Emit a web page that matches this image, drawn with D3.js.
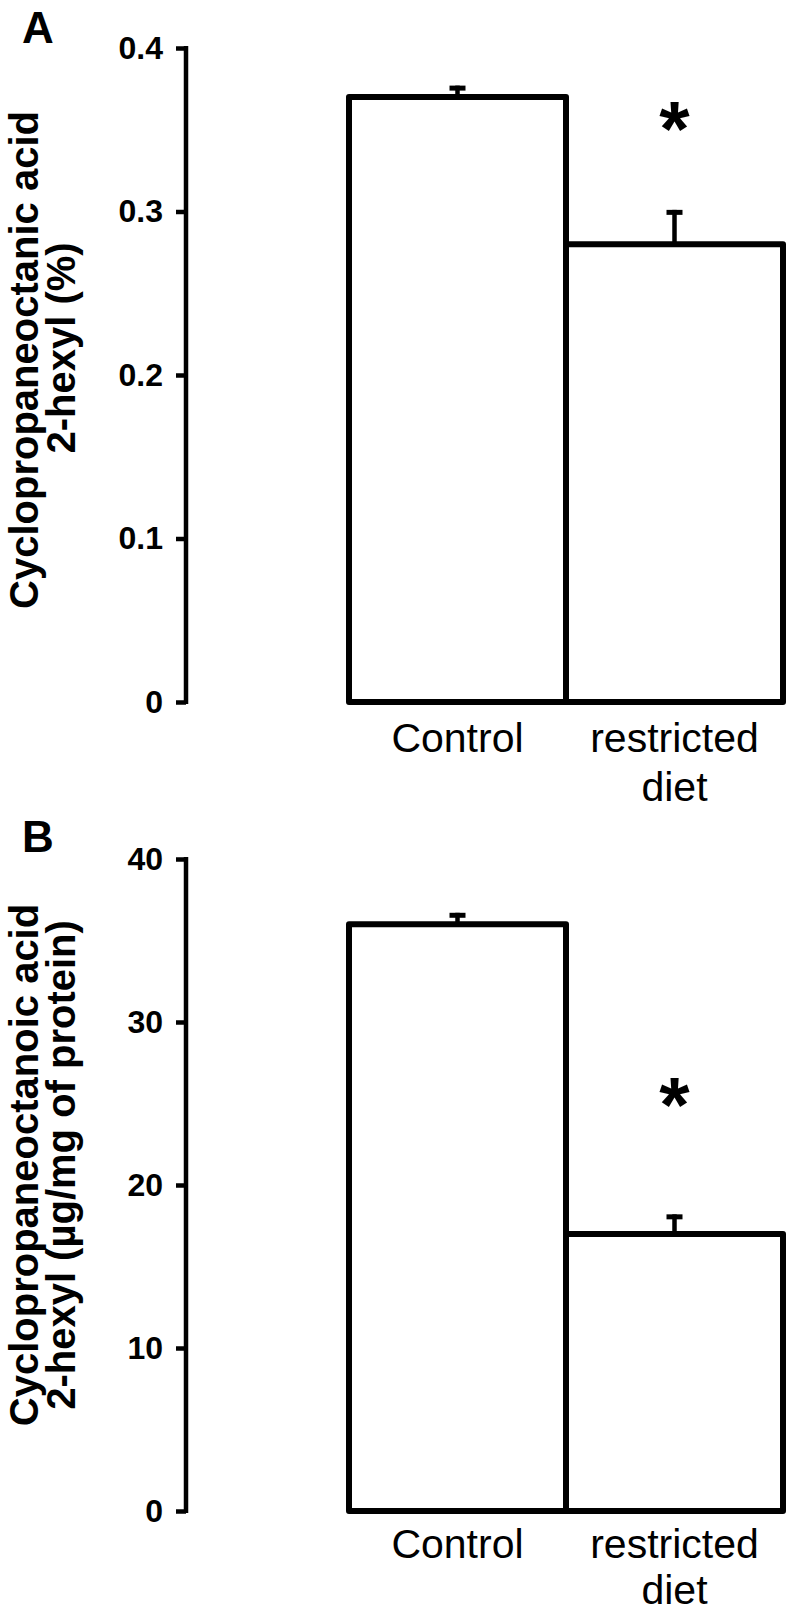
<!DOCTYPE html>
<html>
<head>
<meta charset="utf-8">
<script src="https://cdn.jsdelivr.net/npm/d3@7"></script>
<style>
  html, body { margin: 0; padding: 0; background: #fff; }
  svg { display: block; }
  text { font-family: "Liberation Sans", Arial, Helvetica, sans-serif; fill: #000; }
</style>
</head>
<body>
<svg id="chart" width="790" height="1617"></svg>
<script>
// ---- data ----
const categories = ["Control", "restricted diet"];
const categoryLines = [["Control"], ["restricted", "diet"]];
const significant = [false, true];

const valuesA = [0.37, 0.28];
const errorsA = [0.007, 0.021];
const ticksA = [0, 0.1, 0.2, 0.3, 0.4];
const tickLabelsA = ["0", "0.1", "0.2", "0.3", "0.4"];
const yTitleA = ["Cyclopropaneoctanic acid", "2-hexyl (%)"];

const valuesB = [36, 17];
const errorsB = [0.7, 1.2];
const ticksB = [0, 10, 20, 30, 40];
const tickLabelsB = ["0", "10", "20", "30", "40"];
const yTitleB = ["Cyclopropaneoctanoic acid", "2-hexyl (\u00b5g/mg of protein)"];

// ---- drawing ----
const svg = d3.select("#chart");
const axisX = 186;

const x = d3.scaleBand().domain(categories).range([349, 783]).paddingInner(0).paddingOuter(0);

function panel(cfg) {
  const g = svg.append("g");
  const y = d3.scaleLinear().domain([0, cfg.max]).range([cfg.bottom, cfg.top]);

  // panel letter
  g.append("text").attr("x", 22).attr("y", cfg.letterY)
    .attr("font-size", 44).attr("font-weight", "bold").text(cfg.letter);

  // y axis
  const axis = d3.axisLeft(y).tickValues(cfg.ticks)
    .tickFormat((d, i) => cfg.tickLabels[i])
    .tickSize(10).tickSizeOuter(0).tickPadding(13);
  const ag = g.append("g").attr("transform", `translate(${axisX},0)`).call(axis);
  ag.select(".domain").attr("stroke", "#000").attr("stroke-width", 4.5)
    .attr("d", `M0,${cfg.bottom + 2}V${cfg.top - 2}`);
  ag.selectAll(".tick line").attr("stroke", "#000").attr("stroke-width", 4.5)
    .attr("x2", -10);
  ag.selectAll(".tick text").attr("font-size", 32).attr("font-weight", "bold")
    .attr("font-family", '"Liberation Sans", Arial, sans-serif').attr("fill", "#000");

  // y title
  const tg = g.append("g").attr("transform", `translate(0,${cfg.titleY}) rotate(-90)`);
  cfg.title.forEach((t, i) => {
    tg.append("text").attr("x", cfg.titleShift[i]).attr("y", cfg.titleX[i])
      .attr("text-anchor", "middle").attr("font-size", 40).attr("font-weight", "bold")
      .text(t);
  });

  // bars
  g.selectAll("rect.bar").data(cfg.values).join("rect").attr("class", "bar")
    .attr("x", (d, i) => x(categories[i]))
    .attr("width", x.bandwidth())
    .attr("y", d => y(d))
    .attr("height", d => y(0) - y(d))
    .attr("fill", "#fff").attr("stroke", "#000").attr("stroke-width", 6)
    .attr("stroke-linejoin", "round");

  // error bars
  cfg.values.forEach((v, i) => {
    const cx = x(categories[i]) + x.bandwidth() / 2;
    g.append("line").attr("x1", cx).attr("x2", cx)
      .attr("y1", y(v)).attr("y2", y(v + cfg.errors[i]))
      .attr("stroke", "#000").attr("stroke-width", 4.5);
    g.append("line").attr("x1", cx - 8).attr("x2", cx + 8)
      .attr("y1", y(v + cfg.errors[i]) + 2.5).attr("y2", y(v + cfg.errors[i]) + 2.5)
      .attr("stroke", "#000").attr("stroke-width", 5);
    if (significant[i]) {
      g.append("text").attr("x", cx).attr("y", cfg.starY)
        .attr("text-anchor", "middle").attr("font-size", 78).attr("font-weight", "bold")
        .text("*");
    }
  });

  // category labels
  categoryLines.forEach((lines, i) => {
    const cx = x(categories[i]) + x.bandwidth() / 2;
    lines.forEach((t, j) => {
      g.append("text").attr("x", cx).attr("y", cfg.bottom + cfg.labelOffset + j * cfg.labelGap)
        .attr("text-anchor", "middle").attr("font-size", 41).text(t);
    });
  });
}

panel({
  letter: "A", letterY: 43, max: 0.4, top: 48, bottom: 702,
  ticks: ticksA, tickLabels: tickLabelsA, values: valuesA, errors: errorsA,
  title: yTitleA, titleX: [38, 75], titleShift: [0, 12], titleY: 360, starY: 156,
  labelOffset: 50, labelGap: 49
});
panel({
  letter: "B", letterY: 852, max: 40, top: 859, bottom: 1511,
  ticks: ticksB, tickLabels: tickLabelsB, values: valuesB, errors: errorsB,
  title: yTitleB, titleX: [38, 75], titleShift: [0, 0], titleY: 1165, starY: 1132,
  labelOffset: 47, labelGap: 46
});
</script>
</body>
</html>
